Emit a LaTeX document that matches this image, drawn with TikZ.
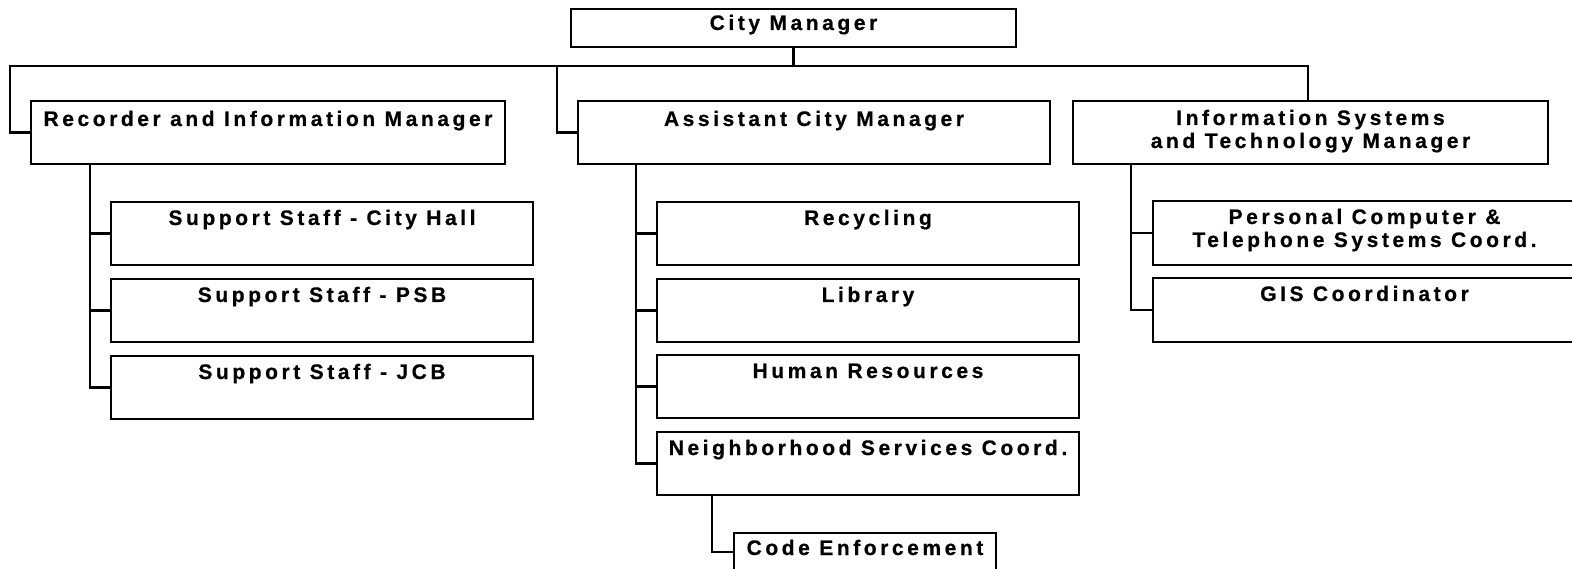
\documentclass[tikz,border=0pt]{standalone}
\usepackage{fontspec}
\newfontfamily\orgfont{Liberation Sans Bold}[LetterSpace=17, FakeBold=0.6]
\begin{document}
\begin{tikzpicture}[x=1pt, y=-1pt,
  unitbox/.style={draw, line width=1.7pt, inner sep=0pt, outer sep=0pt, anchor=north west},
  unitlabel/.style={anchor=base, inner sep=0pt, align=center,
    font=\orgfont\fontsize{21}{23}\selectfont},
  link/.style={line width=2.1pt}]
\clip (0,0) rectangle (1572,569);
\fill[white] (0,0) rectangle (1572,569);

% box: name, left, top, width, height
\newcommand\orgunit[5]{\node[unitbox, minimum width=#4pt, minimum height=#5pt] (#1) at (#2,#3) {};}

% top level
\orgunit{cm}{571}{9}{445}{38}
\node[unitlabel] (cm-t) at ([yshift=-21pt]cm.north) {City Manager};

% second level
\orgunit{rec}{31}{101}{474}{63}
\node[unitlabel] (rec-t) at ([yshift=-25pt]rec.north) {Recorder and Information Manager};
\orgunit{asst}{578}{101}{472}{63}
\node[unitlabel] (asst-t) at ([yshift=-25pt]asst.north) {Assistant City Manager};
\orgunit{ist}{1073}{101}{475}{63}
% two-line labels sit on the baseline of their last line
\node[unitlabel] (ist-t) at ([yshift=-47pt]ist.north) {Information Systems\\and Technology Manager};

% under the recorder
\orgunit{ss1}{111}{202}{422}{63}
\node[unitlabel] (ss1-t) at ([yshift=-23pt]ss1.north) {Support Staff - City Hall};
\orgunit{ss2}{111}{279}{422}{63}
\node[unitlabel] (ss2-t) at ([yshift=-23pt]ss2.north) {Support Staff - PSB};
\orgunit{ss3}{111}{356}{422}{63}
\node[unitlabel] (ss3-t) at ([yshift=-23pt]ss3.north) {Support Staff - JCB};

% under the assistant city manager
\orgunit{rcy}{657}{202}{422}{63}
\node[unitlabel] (rcy-t) at ([yshift=-23pt]rcy.north) {Recycling};
\orgunit{lib}{657}{279}{422}{63}
\node[unitlabel] (lib-t) at ([yshift=-23pt]lib.north) {Library};
\orgunit{hr}{657}{355}{422}{63}
\node[unitlabel] (hr-t) at ([yshift=-23pt]hr.north) {Human Resources};
\orgunit{nsc}{657}{432}{422}{63}
\node[unitlabel] (nsc-t) at ([yshift=-23pt]nsc.north) {Neighborhood Services Coord.};
\orgunit{ce}{734}{533}{262}{38}
\node[unitlabel] (ce-t) at ([yshift=-22pt]ce.north) {Code Enforcement};

% under information systems
\orgunit{pc}{1153}{201}{423}{64}
\node[unitlabel] (pc-t) at ([yshift=-46pt]pc.north) {Personal Computer \&\\Telephone Systems Coord.};
\orgunit{gis}{1153}{278}{423}{64}
\node[unitlabel] (gis-t) at ([yshift=-23pt]gis.north) {GIS Coordinator};

% connectors
\coordinate (busL) at (10,66);
\coordinate (busM) at (557,66);
\coordinate (busR) at (1308,66);
\coordinate (recS) at ([xshift=59pt]rec.south west);
\coordinate (asstS) at ([xshift=58pt]asst.south west);
\coordinate (istS) at ([xshift=58pt]ist.south west);
\coordinate (nscS) at ([xshift=55pt]nsc.south west);
\coordinate (ceW) at ([yshift=-19pt]ce.north west);

\draw[link] (cm.south) -- (cm.south |- busL);
\draw[link] (rec.west) -| (busL) -- (busR) -- (busR |- ist.north);
\draw[link] (busM) |- (asst.west);

\draw[link] (recS) |- (ss3.west);
\draw[link] (ss1.west) -- (ss1.west -| recS);
\draw[link] (ss2.west) -- (ss2.west -| recS);

\draw[link] (asstS) |- (nsc.west);
\draw[link] (rcy.west) -- (rcy.west -| asstS);
\draw[link] (lib.west) -- (lib.west -| asstS);
\draw[link] (hr.west) -- (hr.west -| asstS);
\draw[link] (nscS) |- (ceW);

\draw[link] (istS) |- (gis.west);
\draw[link] (pc.west) -- (pc.west -| istS);
\end{tikzpicture}
\end{document}
